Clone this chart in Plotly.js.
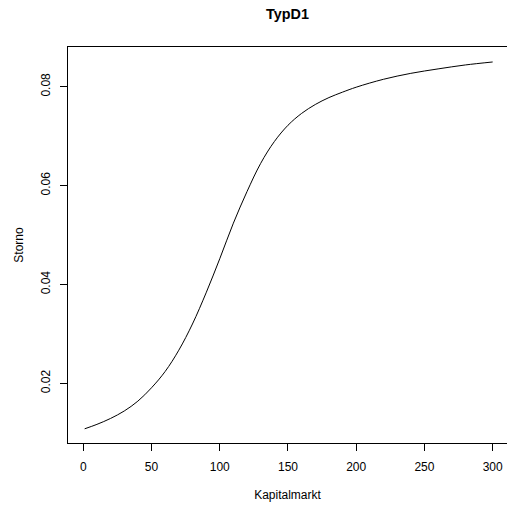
<!DOCTYPE html>
<html>
<head>
<meta charset="utf-8">
<script src="https://cdn.plot.ly/plotly-3.0.1.min.js"></script>
<style>html,body{margin:0;padding:0;background:#fff;}#chart{width:507px;height:506px;}</style>
</head>
<body>
<div id="chart"></div>
<script>
// Kapitalmarkt (x) values and Storno (y) values
const kapitalmarkt = [1, 10, 20, 30, 40, 50, 60, 70, 80, 90, 100, 110, 120, 130, 140, 150, 160, 170, 180, 190, 200, 220, 240, 260, 280, 300];
const storno = [0.0108, 0.0117, 0.0129, 0.0144, 0.0164, 0.0191, 0.0224, 0.0267, 0.0320, 0.0383, 0.0452, 0.0524, 0.0588, 0.0645, 0.0689, 0.0722, 0.0746, 0.0764, 0.0778, 0.0789, 0.0799, 0.0815, 0.0827, 0.0836, 0.0844, 0.0850];
const xTicks = [0, 50, 100, 150, 200, 250, 300];
const yTicks = [0.02, 0.04, 0.06, 0.08];
const yTickText = ["0.02", "0.04", "0.06", "0.08"];

const font = {family: "Liberation Sans, Arial, sans-serif", color: "#000"};

Plotly.newPlot("chart", [{
  x: kapitalmarkt,
  y: storno,
  type: "scatter",
  mode: "lines",
  line: {color: "#000", width: 1, shape: "spline", smoothing: 1},
  hoverinfo: "skip"
}], {
  width: 507,
  height: 506,
  paper_bgcolor: "#fff",
  plot_bgcolor: "#fff",
  showlegend: false,
  margin: {l: 68, r: 0, t: 47, b: 63, pad: 0},
  title: {text: "<b>TypD1</b>", font: Object.assign({size: 14.4}, font), x: 0.567, xanchor: "center", y: 0.972, yanchor: "middle"},
  xaxis: {
    range: [-11.2, 310.5],
    tickmode: "array", tickvals: xTicks, ticktext: xTicks.map(String),
    ticks: "outside", ticklen: 7, tickwidth: 1, tickcolor: "#000",
    ticklabelstandoff: 6,
    showline: true, mirror: true, linecolor: "#000", linewidth: 1,
    showgrid: false, zeroline: false,
    tickfont: Object.assign({size: 12}, font),
    title: {text: "Kapitalmarkt", font: Object.assign({size: 12}, font), standoff: 17}
  },
  yaxis: {
    range: [0.00793, 0.08803],
    tickmode: "array", tickvals: yTicks, ticktext: yTickText,
    tickangle: -90,
    ticks: "outside", ticklen: 7, tickwidth: 1, tickcolor: "#000",
    ticklabelstandoff: 5,
    showline: true, mirror: true, linecolor: "#000", linewidth: 1,
    showgrid: false, zeroline: false,
    tickfont: Object.assign({size: 12}, font),
    title: {text: "Storno", font: Object.assign({size: 12}, font), standoff: 13}
  }
}, {staticPlot: true, displayModeBar: false});
</script>
</body>
</html>
